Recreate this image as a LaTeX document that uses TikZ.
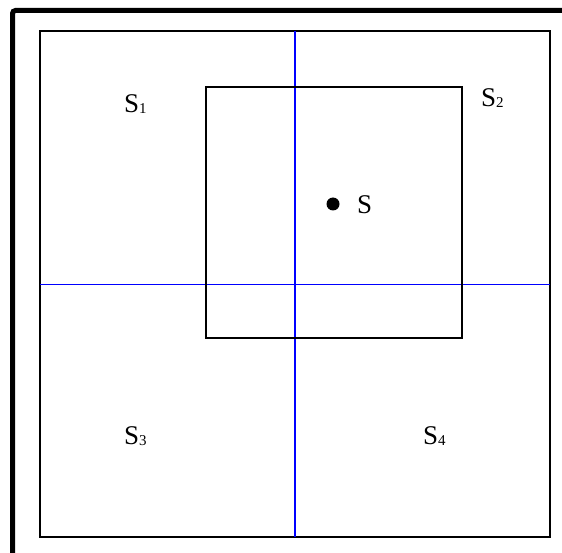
\documentclass[tikz,border=0pt]{standalone}
\usepackage{fontspec}
\setmainfont{Liberation Serif}
\usetikzlibrary{positioning}
\newcommand{\idx}[1]{\raisebox{-1pt}{\fontsize{15}{15}\selectfont #1}}

\begin{document}
\begin{tikzpicture}[
  x=1pt, y=-1pt,
  every node/.style={font=\fontsize{27}{27}\selectfont, inner sep=0pt},
  region/.style={draw=black, line width=1.8pt},
  split/.style={draw=blue, line width=1.4pt},
  lab/.style={anchor=base west},
  pt/.style={circle, fill=black, minimum size=13pt},
]
  \useasboundingbox (0,0) rectangle (562,553);

  % frame
  \draw[line width=5pt, rounded corners=3pt] (12.5,560) -- (12.5,10.5) -- (570,10.5);

  % outer square and quadrants
  \coordinate (nw) at (40,31);
  \coordinate (se) at (550,537);
  \coordinate (top) at (295,31);
  \coordinate (bot) at (295,537);
  \coordinate (lft) at (40,284.5);
  \coordinate (rgt) at (550,284.5);
  \draw[region] (nw) rectangle (se);
  \draw[split] (top) -- (bot);
  \draw[split] (lft) -- (rgt);

  % inner square
  \draw[region] (206,87) rectangle (462,338);

  % point s
  \node[pt] (s) at (333,204) {};
  \node[lab] (slab) at (357,214) {S};

  % labels
  \node[lab] (s1) at (124,113) {S\idx{1}};
  \node[lab] (s2) at (481,107) {S\idx{2}};
  \node[lab] (s3) at (124,444) {S\idx{3}};
  \node[lab] (s4) at (423,444) {S\idx{4}};
\end{tikzpicture}
\end{document}
